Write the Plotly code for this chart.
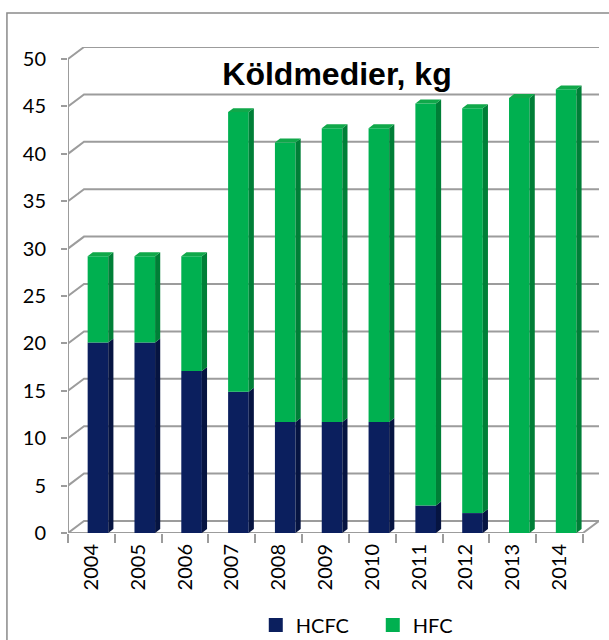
import plotly.graph_objects as go

# ---------------- data ----------------
years = ["2004", "2005", "2006", "2007", "2008", "2009", "2010", "2011", "2012", "2013", "2014"]
hcfc = [20.1, 20.1, 17.1, 14.9, 11.7, 11.7, 11.7, 2.9, 2.1, 0, 0]
hfc = [9.1, 9.1, 12.1, 29.5, 29.5, 31.0, 31.0, 42.4, 42.7, 45.9, 46.8]
y_ticks = [0, 5, 10, 15, 20, 25, 30, 35, 40, 45, 50]
series_names = ["HCFC", "HFC"]
title_text = "Köldmedier, kg"

# ---------------- style ----------------
NAVY, NAVY_SIDE = "#0B1F5E", "#061441"
GREEN, GREEN_SIDE, GREEN_TOP = "#00B050", "#007F37", "#10A84A"
GRID = "#9C9C9C"
FONT = "Lato"
BAR_SHIFT, BAR_W = 0.14, 0.44
SIDE_DX, SIDE_DY = 0.11, 0.42
BACK_DX, BACK_DY = 0.342, 1.27

idx = list(range(len(years)))
xpos = [i + BAR_SHIFT for i in idx]
x_lo, x_hi = -0.5, len(years) - 0.5

fig = go.Figure()


def side_faces(bases, heights):
    xs, ys = [], []
    for xc, b, h in zip(xpos, bases, heights):
        if h <= 0:
            continue
        xr = xc + BAR_W / 2
        t = b + h
        xs += [xr, xr + SIDE_DX, xr + SIDE_DX, xr, xr, None]
        ys += [b, b + SIDE_DY, t + SIDE_DY, t, b, None]
    return xs, ys


def top_faces(bases, heights):
    xs, ys = [], []
    for xc, b, h in zip(xpos, bases, heights):
        if h <= 0:
            continue
        xl, xr = xc - BAR_W / 2, xc + BAR_W / 2
        t = b + h
        xs += [xl, xl + SIDE_DX, xr + SIDE_DX, xr, xl, None]
        ys += [t, t + SIDE_DY, t + SIDE_DY, t, t, None]
    return xs, ys


hfc_base = list(hcfc)

fig.add_bar(x=xpos, y=hcfc, base=[0] * len(hcfc), width=BAR_W, name=series_names[0],
            marker=dict(color=NAVY, line=dict(width=0)), showlegend=False)
fig.add_bar(x=xpos, y=hfc, base=hfc_base, width=BAR_W, name=series_names[1],
            marker=dict(color=GREEN, line=dict(width=0)), showlegend=False)

for bases, vals, col in [([0] * len(hcfc), hcfc, NAVY_SIDE), (hfc_base, hfc, GREEN_SIDE)]:
    sx, sy = side_faces(bases, vals)
    fig.add_scatter(x=sx, y=sy, mode="lines", fill="toself", fillcolor=col,
                    line=dict(width=0, color=col), showlegend=False, hoverinfo="skip")

tx, ty = top_faces(hfc_base, hfc)
fig.add_scatter(x=tx, y=ty, mode="lines", fill="toself", fillcolor=GREEN_TOP,
                line=dict(width=0, color=GREEN_TOP), showlegend=False, hoverinfo="skip")

# legend entries (square swatches)
for nm, col in zip(series_names, [NAVY, GREEN]):
    fig.add_scatter(x=[None], y=[None], mode="markers", name=nm,
                    marker=dict(symbol="square", size=14, color=col), showlegend=True)

# 3D-style gridlines (front diagonal + back wall)
shapes = []
for v in y_ticks:
    shapes.append(dict(type="path", layer="below",
                       path=f"M {x_lo},{v} L {x_lo + BACK_DX},{v + BACK_DY} L {x_hi + BACK_DX},{v + BACK_DY}",
                       line=dict(color=GRID, width=2)))
shapes.append(dict(type="path", layer="below",
                   path=f"M {x_lo},0 L {x_hi},0 L {x_hi + BACK_DX},{BACK_DY}",
                   line=dict(color=GRID, width=2)))
shapes.append(dict(type="line", layer="below", x0=x_lo, x1=x_lo, y0=0, y1=y_ticks[-1],
                   line=dict(color=GRID, width=2)))
# outer chart border
shapes.append(dict(type="rect", xref="paper", yref="paper", x0=-0.115, x1=1.2, y0=-0.4, y1=1.07,
                   line=dict(color="#8A8A8A", width=1.5), fillcolor="rgba(0,0,0,0)"))

fig.update_layout(
    width=609, height=640,
    margin=dict(l=68, r=10, t=47, b=107),
    paper_bgcolor="white", plot_bgcolor="white",
    barmode="overlay",
    shapes=shapes,
    showlegend=True,
    legend=dict(orientation="h", xref="container", yref="container", x=0.42, y=1 - 625 / 640,
                xanchor="left", yanchor="middle", font=dict(family=FONT, size=20, color="black"),
                traceorder="normal", entrywidth=72, entrywidthmode="pixels",
                bgcolor="rgba(0,0,0,0)"),
    title=dict(text=f"<b>{title_text}</b>", xref="container", yref="container",
               x=337 / 609, y=1 - 74 / 640, xanchor="center", yanchor="middle",
               font=dict(family="Liberation Sans", size=32, color="black")),
    xaxis=dict(range=[x_lo, x_hi + BACK_DX], tickmode="array", tickvals=idx, ticktext=years,
               tickangle=-90, ticks="", showgrid=False, zeroline=False, showline=False,
               tickfont=dict(family=FONT, size=20, color="black"), ticklabelstandoff=6,
               minor=dict(tickmode="linear", tick0=-0.5, dtick=1, ticks="outside", ticklen=9,
                          tickcolor=GRID, tickwidth=2, showgrid=False)),
    yaxis=dict(range=[0, y_ticks[-1] + BACK_DY], tickmode="array", tickvals=y_ticks,
               ticks="outside", ticklen=6, tickcolor=GRID, tickwidth=2, showgrid=False,
               zeroline=False, showline=False, ticklabelstandoff=11,
               tickfont=dict(family=FONT, size=20, color="black")),
)

fig.write_html("out.html", config={"displayModeBar": False},
               post_script="document.body.style.margin='0';")
